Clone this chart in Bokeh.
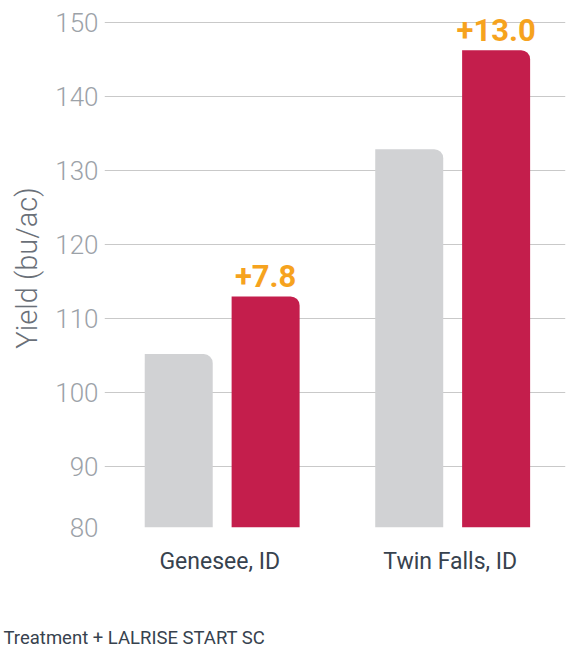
from bokeh.plotting import figure
from bokeh.models import FactorRange, Range1d, FixedTicker, Title, ColumnDataSource
from bokeh.transform import dodge
from bokeh.core.properties import value
from bokeh.embed import file_html
from bokeh.resources import INLINE

# ---- data ----
locations = ["Genesee, ID", "Twin Falls, ID"]
treatment = [105.2, 132.9]
lalrise = [113.0, 146.3]
gain_labels = ["+7.8", "+13.0"]
y_ticks = [80, 90, 100, 110, 120, 130, 140, 150]
y_axis_title = "Yield (bu/ac)"
footer_text = "Treatment + LALRISE START SC"

# ---- style ----
GRAY = "#D1D2D4"
RED = "#C41E4C"
ORANGE = "#F6A31E"
TICK_COLOR = "#9CA2A8"
AXIS_TITLE_COLOR = "#6A7078"
DARK = "#37424E"
LIGHT_FONT = "Roboto Light"
FONT = "Roboto"

# the bottom gridline (labelled 80) sits closer to 90 than the others
AXIS_BASE = 81.75

src = ColumnDataSource(dict(loc=locations, treat=treatment, lal=lalrise, gain=gain_labels))

p = figure(
    width=567, height=649,
    x_range=FactorRange(*locations),
    y_range=Range1d(AXIS_BASE, 151.93),
    output_backend="svg", toolbar_location=None,
    min_border_left=104, min_border_right=2, min_border_top=8, min_border_bottom=122,
)
p.outline_line_color = None
p.background_fill_color = "white"
p.border_fill_color = "white"

tick_positions = [AXIS_BASE] + y_ticks[1:]
p.yaxis.ticker = FixedTicker(ticks=tick_positions)
p.yaxis.major_label_overrides = {AXIS_BASE: str(y_ticks[0])}
p.yaxis.axis_line_color = None
p.yaxis.major_tick_out = 0
p.yaxis.major_tick_in = 0
p.yaxis.minor_tick_out = 0
p.yaxis.minor_tick_in = 0
p.yaxis.major_label_standoff = 6
p.yaxis.major_label_text_font = LIGHT_FONT
p.yaxis.major_label_text_font_size = "26px"
p.yaxis.major_label_text_color = TICK_COLOR
p.yaxis.axis_label = y_axis_title
p.yaxis.axis_label_text_font = LIGHT_FONT
p.yaxis.axis_label_text_font_style = "normal"
p.yaxis.axis_label_text_font_size = "29px"
p.yaxis.axis_label_text_color = AXIS_TITLE_COLOR
p.yaxis.axis_label_standoff = 8

p.xaxis.axis_line_color = None
p.xaxis.major_tick_out = 0
p.xaxis.major_tick_in = 0
p.xaxis.major_label_standoff = 20
p.xaxis.major_label_text_font = FONT
p.xaxis.major_label_text_font_size = "23px"
p.xaxis.major_label_text_color = DARK
# blank spacer label pushes the footer note down to the bottom of the page
p.xaxis.axis_label = " "
p.xaxis.axis_label_text_font_size = "1px"
p.xaxis.axis_label_standoff = 43

p.xgrid.grid_line_color = None
p.ygrid.grid_line_color = "#C9C9C9"
p.ygrid.grid_line_width = 1.2

p.vbar(x=dodge("loc", -0.178, range=p.x_range), top="treat", bottom=AXIS_BASE, width=0.295,
       source=src, fill_color=GRAY, line_color=None, border_radius=(0, 9, 0, 0))
p.vbar(x=dodge("loc", 0.199, range=p.x_range), top="lal", bottom=AXIS_BASE, width=0.295,
       source=src, fill_color=RED, line_color=None, border_radius=(0, 9, 0, 0))

p.text(x=dodge("loc", 0.199, range=p.x_range), y="lal", text="gain", source=src,
       text_align="center", text_baseline="alphabetic", y_offset=-20,
       text_font=value(FONT), text_font_style="bold", text_font_size="31px",
       text_color=ORANGE)

p.add_layout(Title(text=footer_text, align="left", offset=-101, standoff=0,
                   vertical_align="bottom",
                   text_font=FONT, text_font_style="normal", text_font_size="18.5px",
                   text_color=DARK), "below")

open("out.html", "w").write(file_html(p, INLINE))
